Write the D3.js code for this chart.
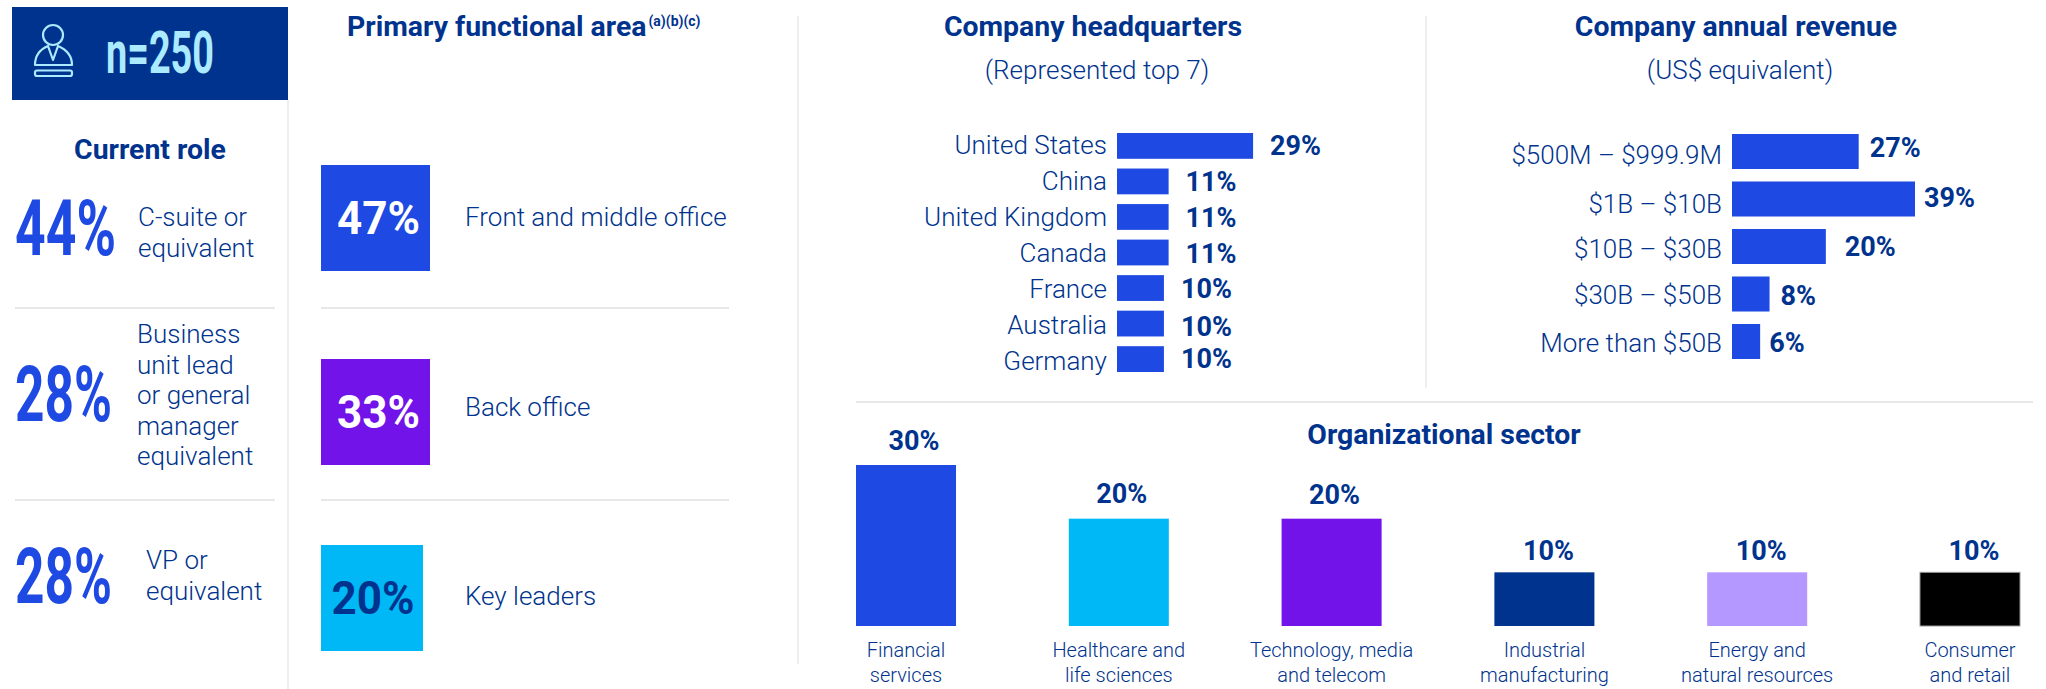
<!DOCTYPE html>
<html>
<head>
<meta charset="utf-8">
<script src="https://cdn.jsdelivr.net/npm/d3@7"></script>
<style>
    body { margin: 0; background: #fff; }
    svg { display: block; font-family: Roboto, sans-serif; }
    .head { font-size: 28.4px; font-weight: 700; fill: #00338d; }
    .sub { font-size: 26px; font-weight: 300; fill: #00338d; }
    .lab { font-size: 26px; font-weight: 300; fill: #00338d; }
    .val { font-size: 27px; font-weight: 700; fill: #00338d; }
    .small { font-size: 20px; font-weight: 300; fill: #00338d; }
</style>
</head>
<body>
<div id="chart"></div>
<script>
// survey values
const sampleLabel = 'n=250';

const roleShares = [44, 28, 28];
const roleLabels = [
    ['C-suite or', 'equivalent'],
    ['Business', 'unit lead', 'or general', 'manager', 'equivalent'],
    ['VP or', 'equivalent']
];

const areaNames = ['Front and middle office', 'Back office', 'Key leaders'];
const areaShares = [47, 33, 20];

const hqNames = ['United States', 'China', 'United Kingdom', 'Canada', 'France', 'Australia', 'Germany'];
const hqShares = [29, 11, 11, 11, 10, 10, 10];

const revenueNames = ['$500M – $999.9M', '$1B – $10B', '$10B – $30B', '$30B – $50B', 'More than $50B'];
const revenueShares = [27, 39, 20, 8, 6];

const sectorNames = [
    ['Financial', 'services'],
    ['Healthcare and', 'life sciences'],
    ['Technology, media', 'and telecom'],
    ['Industrial', 'manufacturing'],
    ['Energy and', 'natural resources'],
    ['Consumer', 'and retail']
];
const sectorShares = [30, 20, 20, 10, 10, 10];

// colours
const navy = '#00338d';
const cobalt = '#1e49e2';
const purple = '#7213ea';
const cyan = '#00b8f5';
const pale = '#aceaff';
const lilac = '#b497ff';
const ruleColor = '#e8e8e8';

const svg = d3.select('#chart').append('svg')
    .attr('width', 2046)
    .attr('height', 689);

// hand placed label offsets in the original
const hqLabelNudge = [0, 0, 1, 1, 1, 2, 2];
const hqValueNudge = [0, 1, 1, 1, 1, 3, 0];
const hqValueXNudge = [0, 0, 0, 0, 0, 0, 0];
const revLabelNudge = [0, 2, -1, -2, -1];
const revValueNudge = [-8, -5, -4, -2, -2];
const revValueXNudge = [0, -2, 8, 0, -2];
const sectorValueNudge = [8, 3, 3, 4, 4, 4];
const sectorValueLift = [15, 16, 15, 12, 12, 12];

const pct = d => `${d}%`;

// separators
const rules = [
    [288, 100, 288, 689],
    [798, 16, 798, 664],
    [1426, 16, 1426, 388],
    [856, 402, 2033, 402],
    [15, 308, 275, 308],
    [15, 500, 275, 500],
    [321, 308, 729, 308],
    [321, 500, 729, 500]
];
svg.selectAll('.rule')
    .data(rules)
    .enter().append('line')
    .attr('class', 'rule')
    .attr('x1', d => d[0])
    .attr('y1', d => d[1])
    .attr('x2', d => d[2])
    .attr('y2', d => d[3])
    .attr('stroke', ruleColor)
    .attr('stroke-width', (d, i) => i < 3 ? 1.5 : 2);

// sample size banner
svg.append('rect')
    .attr('x', 12).attr('y', 7)
    .attr('width', 276).attr('height', 93)
    .attr('fill', navy);

svg.append('text')
    .attr('x', 106).attr('y', 73)
    .attr('textLength', 108)
    .attr('lengthAdjust', 'spacingAndGlyphs')
    .attr('font-size', 60)
    .attr('font-weight', 700)
    .attr('fill', pale)
    .text(sampleLabel);

const icon = svg.append('g')
    .attr('fill', 'none')
    .attr('stroke', pale)
    .attr('stroke-width', 2.2)
    .attr('stroke-linejoin', 'round');
icon.append('circle').attr('cx', 53).attr('cy', 35).attr('r', 10);
icon.append('path').attr('d', 'M35 65 C35 54 41 49 48 46 L53 60 L58 46 C65 49 72 54 72 65 Z');
icon.append('rect').attr('x', 35).attr('y', 70.5).attr('width', 37).attr('height', 5.5).attr('rx', 2);

// current role
svg.append('text').attr('class', 'head')
    .attr('x', 150).attr('y', 159)
    .attr('text-anchor', 'middle')
    .text('Current role');

const roleY = d3.scaleOrdinal().domain(d3.range(3)).range([255, 421, 603]);
const roleTextY = d3.scaleOrdinal().domain(d3.range(3)).range([226, 343, 569]);
const roleTextX = d3.scaleOrdinal().domain(d3.range(3)).range([138, 137, 146]);
const roleWidth = d3.scaleOrdinal().domain(d3.range(3)).range([101, 97, 97]);

// the big numbers are condensed, squeeze them sideways to the width in the picture
svg.selectAll('.role-share')
    .data(roleShares)
    .enter().append('text')
    .attr('class', 'role-share')
    .attr('font-size', 78)
    .attr('font-weight', 700)
    .attr('fill', cobalt)
    .text(pct)
    .attr('transform', function (d, i) {
        const squeeze = roleWidth(i) / this.getComputedTextLength();
        return `translate(15,${roleY(i)}) scale(${squeeze},1)`;
    });

roleLabels.forEach((lines, i) => {
    svg.append('g').selectAll('text')
        .data(lines)
        .enter().append('text')
        .attr('class', 'lab')
        .attr('x', roleTextX(i))
        .attr('y', (d, j) => roleTextY(i) + j * 30.5)
        .text(d => d);
});

// primary functional area
const areaTitle = svg.append('text').attr('class', 'head')
    .attr('x', 347).attr('y', 36);
areaTitle.append('tspan').text('Primary functional area');
areaTitle.append('tspan')
    .attr('dy', -10)
    .attr('dx', 2)
    .attr('font-size', 14)
    .text('(a)(b)(c)');

const tileY = d3.scaleOrdinal().domain(areaNames).range([165, 359, 545]);
const tileNameY = d3.scaleOrdinal().domain(areaNames).range([226, 416, 605]);
const tileWidth = d3.scaleLinear().domain([20, 33]).range([102, 109]).clamp(true);
const tileFill = d3.scaleOrdinal().domain(areaNames).range([cobalt, purple, cyan]);
const tileText = d3.scaleOrdinal().domain(areaNames).range(['#fff', '#fff', navy]);
const tileHeight = 106;

const areaData = areaNames.map((name, i) => ({ name: name, share: areaShares[i] }));

svg.selectAll('.tile')
    .data(areaData)
    .enter().append('rect')
    .attr('class', 'tile')
    .attr('x', 321)
    .attr('y', d => tileY(d.name))
    .attr('width', d => tileWidth(d.share))
    .attr('height', tileHeight)
    .attr('fill', d => tileFill(d.name));

svg.selectAll('.tile-val')
    .data(areaData)
    .enter().append('text')
    .attr('class', 'tile-val')
    .attr('x', d => 321 + tileWidth(d.share) / 2 + 3 - (d.share === 20 ? 2 : 0))
    .attr('y', d => tileY(d.name) + 69)
    .attr('text-anchor', 'middle')
    .attr('font-size', 46)
    .attr('font-weight', 700)
    .attr('fill', d => tileText(d.name))
    .attr('textLength', 83)
    .attr('lengthAdjust', 'spacingAndGlyphs')
    .text(d => pct(d.share));

svg.selectAll('.tile-name')
    .data(areaData)
    .enter().append('text')
    .attr('class', 'lab tile-name')
    .attr('x', 465)
    .attr('y', d => tileNameY(d.name))
    .text(d => d.name);

// both horizontal charts share one px per percent
const xShare = d3.scaleLinear().domain([0, 39]).range([0, 183]);

function panelTitle(titleX, subX, title, sub) {
    svg.append('text').attr('class', 'head')
        .attr('x', titleX).attr('y', 36)
        .attr('text-anchor', 'middle')
        .text(title);
    svg.append('text').attr('class', 'sub')
        .attr('x', subX).attr('y', 79)
        .attr('text-anchor', 'middle')
        .text(sub);
}

function hBars(names, shares, x0, yRange, padding, nudgeLabel, nudgeValue, nudgeValueX, labelDy, valueDy, valueGap) {
    const y = d3.scaleBand().domain(names).range(yRange).paddingInner(padding);
    const g = svg.append('g');

    const axis = g.append('g')
        .attr('transform', `translate(${x0},0)`)
        .call(d3.axisLeft(y).tickSize(0).tickPadding(10));
    axis.attr('font-family', null).attr('font-size', null);
    axis.select('.domain').remove();
    axis.selectAll('text')
        .attr('class', 'lab')
        .attr('fill', null)
        .attr('dy', null)
        .attr('y', (d, i) => labelDy + nudgeLabel[i]);

    g.selectAll('.bar')
        .data(shares)
        .enter().append('rect')
        .attr('class', 'bar')
        .attr('x', x0)
        .attr('y', (d, i) => y(names[i]))
        .attr('width', d => xShare(d))
        .attr('height', y.bandwidth())
        .attr('fill', cobalt);

    g.selectAll('.val')
        .data(shares)
        .enter().append('text')
        .attr('class', 'val')
        .attr('x', (d, i) => x0 + xShare(d) + valueGap + nudgeValueX[i])
        .attr('y', (d, i) => y(names[i]) + y.bandwidth() / 2 + valueDy + nudgeValue[i])
        .text(pct);
}

panelTitle(1093, 1097, 'Company headquarters', '(Represented top 7)');
hBars(hqNames, hqShares, 1117, [133, 372], 0.274, hqLabelNudge, hqValueNudge, hqValueXNudge, 8.5, 9, 17);

panelTitle(1736, 1740, 'Company annual revenue', '(US$ equivalent)');
hBars(revenueNames, revenueShares, 1732, [134, 359], 0.263, revLabelNudge, revValueNudge, revValueXNudge, 12, 13, 11);

// organizational sector
svg.append('text').attr('class', 'head')
    .attr('x', 1444).attr('y', 444)
    .attr('text-anchor', 'middle')
    .text('Organizational sector');

const xSector = d3.scaleBand().domain(d3.range(sectorShares.length)).range([856, 2020]).paddingInner(0.53);
const ySector = d3.scaleLinear().domain([0, 30]).range([626, 465]);
const sectorFill = d3.scaleOrdinal().domain(d3.range(6)).range([cobalt, cyan, purple, navy, lilac, '#000']);

svg.selectAll('.sector')
    .data(sectorShares)
    .enter().append('rect')
    .attr('class', 'sector')
    .attr('x', (d, i) => xSector(i))
    .attr('y', d => ySector(d))
    .attr('width', xSector.bandwidth())
    .attr('height', d => ySector(0) - ySector(d))
    .attr('fill', (d, i) => sectorFill(i))
    .attr('stroke', (d, i) => i === 5 ? '#999' : 'none');

svg.selectAll('.sector-val')
    .data(sectorShares)
    .enter().append('text')
    .attr('class', 'val sector-val')
    .attr('x', (d, i) => xSector(i) + xSector.bandwidth() / 2 + sectorValueNudge[i])
    .attr('y', (d, i) => ySector(d) - sectorValueLift[i])
    .attr('text-anchor', 'middle')
    .text(pct);

sectorNames.forEach((lines, i) => {
    svg.append('g').selectAll('text')
        .data(lines)
        .enter().append('text')
        .attr('class', 'small')
        .attr('x', xSector(i) + xSector.bandwidth() / 2)
        .attr('y', (d, j) => 657 + j * 25)
        .attr('text-anchor', 'middle')
        .text(d => d);
});
</script>
</body>
</html>
